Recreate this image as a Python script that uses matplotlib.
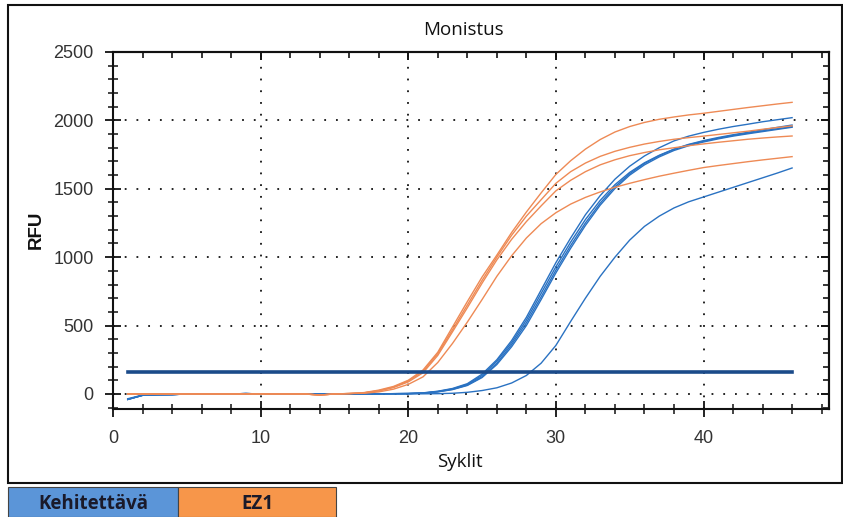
import matplotlib
matplotlib.use("Agg")
import matplotlib.pyplot as plt
from matplotlib.patches import Rectangle
from matplotlib.ticker import MultipleLocator

cycles = list(range(1, 47))

orange_base = [0, 0, 0, 0, 0, 0, 0, 0, 0, 0, 0, 0, 0, -8, 0, 3]
ez1_1 = orange_base + [10, 28, 55, 100, 175, 305, 490, 675, 855, 1015,
                       1180, 1330, 1470, 1605, 1705, 1790, 1860, 1915, 1955, 1985,
                       2008, 2025, 2040, 2052, 2066, 2080, 2094, 2107, 2120, 2132]
ez1_2 = orange_base + [8, 24, 50, 95, 165, 295, 470, 650, 830, 1000,
                       1160, 1300, 1420, 1540, 1625, 1688, 1737, 1774, 1803, 1827,
                       1846, 1862, 1874, 1885, 1897, 1909, 1921, 1935, 1948, 1960]
ez1_3 = orange_base + [8, 22, 47, 88, 155, 282, 455, 630, 810, 980,
                       1130, 1260, 1375, 1485, 1562, 1625, 1675, 1712, 1742, 1765,
                       1785, 1800, 1815, 1828, 1840, 1851, 1862, 1871, 1879, 1886]
ez1_4 = orange_base + [5, 15, 35, 70, 125, 230, 370, 525, 690, 860,
                       1010, 1140, 1245, 1325, 1388, 1437, 1477, 1511, 1540, 1567,
                       1592, 1614, 1635, 1655, 1670, 1684, 1698, 1711, 1723, 1735]

blue_base = [-40, -10, -6, -5, 0, 0, 0, 0, 3, 0, 0, 0, 0, 0, 0, 0, 0, 1, 2, 3]
dev_1 = blue_base + [8, 20, 40, 75, 145, 250, 390, 560, 760, 960,
                     1140, 1310, 1450, 1570, 1665, 1740, 1800, 1850, 1885, 1912,
                     1935, 1955, 1972, 1990, 2005, 2020]
dev_2 = blue_base + [7, 18, 37, 70, 135, 240, 375, 540, 735, 930,
                     1110, 1275, 1415, 1530, 1620, 1690, 1745, 1790, 1825, 1852,
                     1875, 1895, 1913, 1931, 1949, 1966]
dev_3 = blue_base + [6, 16, 34, 65, 125, 225, 360, 520, 710, 905,
                     1085, 1250, 1395, 1515, 1610, 1685, 1742, 1788, 1822, 1848,
                     1870, 1890, 1907, 1923, 1939, 1954]
dev_4 = blue_base + [6, 15, 32, 62, 120, 215, 345, 500, 690, 885,
                     1065, 1232, 1380, 1502, 1600, 1675, 1733, 1780, 1815, 1842,
                     1865, 1885, 1902, 1918, 1934, 1950]
dev_5 = [-35, -8, -5, -4, 0, 0, 0, 0, 0, 0, 0, 0, 0, 0, 0, 0, 0, 0, 0, 0, 1, 2] + \
        [5, 12, 25, 45, 80, 135, 225, 355, 530, 700,
         860, 1000, 1125, 1225, 1300, 1360, 1405, 1440, 1475, 1510,
         1545, 1580, 1615, 1652]

threshold = 160
threshold_x = [1, 46]

title = "Monistus"
xlabel = "Syklit"
ylabel = "RFU"
legend_labels = ["Kehitettävä", "EZ1"]

W, H = 843, 517
fig = plt.figure(figsize=(W / 100, H / 100), dpi=100)

# outer frame
fig.add_artist(Rectangle((8 / W, 1 - 483 / H), (842 - 8) / W, (483 - 5) / H,
                         transform=fig.transFigure, fill=False, edgecolor="#111111",
                         linewidth=1.5))

ax = fig.add_axes([113 / W, 1 - 409 / H, (829 - 113) / W, (409 - 52) / H])
ax.set_xlim(0, 48.5)
ax.set_ylim(-110, 2500)

grid_kw = dict(color="#111111", linewidth=1.3, linestyle=(0, (1, 5.5)), zorder=1)
for gx in [10, 20, 30, 40]:
    ax.axvline(gx, **grid_kw)
for gy in [0, 500, 1000, 1500, 2000]:
    ax.axhline(gy, **grid_kw)

blue_color = "#2A72C2"
orange_color = "#EE8A55"
for s in [dev_1, dev_2, dev_3, dev_4, dev_5]:
    ax.plot(cycles, s, color=blue_color, linewidth=1.0, zorder=3)
for s in [ez1_1, ez1_2, ez1_3, ez1_4]:
    ax.plot(cycles, s, color=orange_color, linewidth=1.0, zorder=4)

ax.plot(threshold_x, [threshold, threshold], color="#1B4B8A", linewidth=2.6, zorder=5)

ax.xaxis.set_major_locator(MultipleLocator(10))
ax.xaxis.set_minor_locator(MultipleLocator(2))
ax.yaxis.set_major_locator(MultipleLocator(500))
ax.yaxis.set_minor_locator(MultipleLocator(100))
ax.tick_params(which="major", direction="inout", length=12, width=1.3, color="#111111",
               labelsize=13, labelcolor="#333333", pad=8)
ax.tick_params(which="minor", direction="inout", length=7, width=1.1, color="#111111")
ax.tick_params(axis="x", which="major", pad=9)
ax.tick_params(axis="x", which="both", top=False)
ax.tick_params(axis="y", which="both", right=False)
for tk in ax.get_xticklabels() + ax.get_yticklabels():
    tk.set_fontfamily("Liberation Sans")
# top / right inward ticks
axt = ax.secondary_xaxis("top")
axt.xaxis.set_major_locator(MultipleLocator(10))
axt.xaxis.set_minor_locator(MultipleLocator(2))
axt.tick_params(which="major", direction="in", length=6, width=1.3, labeltop=False)
axt.tick_params(which="minor", direction="in", length=4, width=1.1)
axr = ax.secondary_yaxis("right")
axr.yaxis.set_major_locator(MultipleLocator(500))
axr.yaxis.set_minor_locator(MultipleLocator(100))
axr.tick_params(which="major", direction="in", length=6, width=1.3, labelright=False)
axr.tick_params(which="minor", direction="in", length=4, width=1.1)
for sp in list(ax.spines.values()) + [axt.spines["top"], axr.spines["right"]]:
    sp.set_linewidth(1.5)
    sp.set_color("#111111")

fig.text(463 / W, 1 - 30 / H, title, fontsize=13.5, family="Open Sans",
         ha="center", va="center", color="#111111")
fig.text(460 / W, 1 - 462 / H, xlabel, fontsize=13.5, family="Open Sans",
         ha="center", va="center", color="#111111")
fig.text(36 / W, 1 - 230 / H, ylabel, fontsize=13.5, family="Liberation Sans",
         fontweight="bold", rotation=90, ha="center", va="center", color="#111111")

# bottom legend boxes
boxes = [(8, 178, "#5B95D8"), (178, 336, "#F7964A")]
for (x0, x1, col), lab in zip(boxes, legend_labels):
    fig.add_artist(Rectangle((x0 / W, 0), (x1 - x0) / W, (517 - 487) / H,
                             transform=fig.transFigure, facecolor=col,
                             edgecolor="#444444", linewidth=0.8))
    fig.text((x0 + x1) / 2 / W, 1 - 504 / H, lab, fontsize=13.5, fontweight="bold",
             family="Open Sans", ha="center", va="center", color="#1A1A2A")

fig.savefig("out.png", dpi=100)
